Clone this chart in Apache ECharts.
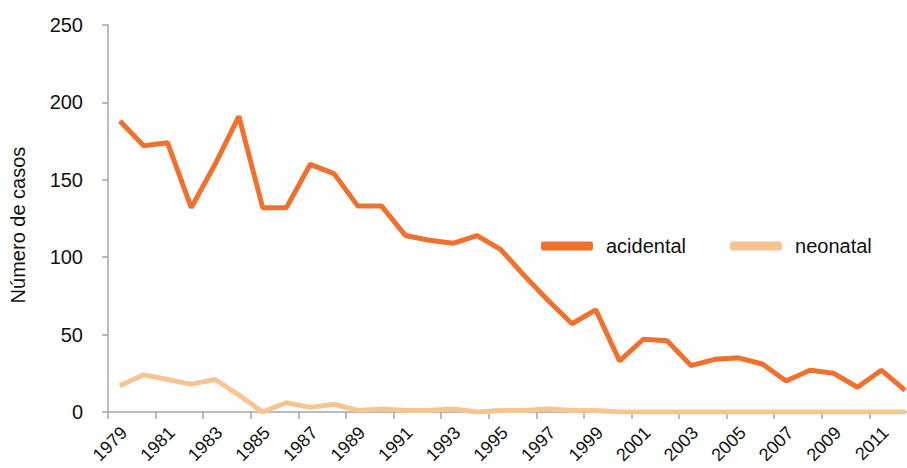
<!DOCTYPE html>
<html>
<head>
<meta charset="utf-8">
<script src="https://cdn.jsdelivr.net/npm/echarts@6/dist/echarts.min.js"></script>
<style>
  html, body { margin: 0; padding: 0; background: #fff; overflow: hidden; }
  /* the original plot runs a little past the right edge of the picture */
  #chart { width: 917px; height: 468px; }
</style>
</head>
<body>
<div id="chart"></div>
<script>
const years = []
for (let y = 1979; y <= 2012; y++) years.push(String(y))

const acidental = [188, 172, 174, 132, 160, 191, 132, 132, 160, 154, 133, 133, 114, 111, 109, 114, 105, 88, 72, 57, 66, 33, 47, 46, 30, 34, 35, 31, 20, 27, 25, 16, 27, 14]
const neonatal = [17, 24, 21, 18, 21, 11, 0, 6, 3, 5, 1, 2, 1, 1, 2, 0, 1, 1, 2, 1, 1, 0, 0, 0, 0, 0, 0, 0, 0, 0, 0, 0, 0, 0]

const axisGray = '#a6a6a6'
const font = 'Liberation Sans, Arial, sans-serif'

const chart = echarts.init(document.getElementById('chart'), null, { renderer: 'svg' })

chart.setOption({
  animation: false,
  backgroundColor: '#fff',
  textStyle: { fontFamily: font },
  grid: { left: 107, right: 0, top: 25, bottom: 56 },
  legend: {
    left: 536,
    top: 231,
    itemGap: 44,
    itemWidth: 52,
    itemHeight: 9,
    icon: 'roundRect',
    textStyle: { fontSize: 20, color: '#111', fontFamily: font, padding: [0, 0, 0, 8] },
    data: ['acidental', 'neonatal']
  },
  xAxis: {
    type: 'category',
    data: years,
    axisLine: { lineStyle: { color: axisGray, width: 1.5 } },
    axisTick: { show: true, length: 7, lineStyle: { color: axisGray, width: 1.5 } },
    axisLabel: { interval: 1, rotate: 45, fontSize: 18, color: '#111', margin: 22, padding: [0, -6, 0, 0] }
  },
  yAxis: {
    type: 'value',
    min: 0,
    max: 250,
    interval: 50,
    name: 'Número de casos',
    nameLocation: 'middle',
    nameGap: 80,
    nameTextStyle: { fontSize: 20, color: '#111', padding: [0, 13, 0, 0] },
    axisLine: { show: true, lineStyle: { color: axisGray, width: 1.5 } },
    axisTick: { show: true, length: 6, lineStyle: { color: axisGray, width: 1.5 } },
    axisLabel: { fontSize: 20, color: '#111', margin: 25 },
    splitLine: { show: false }
  },
  series: [
    {
      name: 'acidental',
      type: 'line',
      data: acidental,
      symbol: 'none',
      z: 3,
      itemStyle: { color: '#ef712d' },
      lineStyle: { color: '#ef712d', width: 5 }
    },
    {
      name: 'neonatal',
      type: 'line',
      data: neonatal,
      symbol: 'none',
      z: 2,
      itemStyle: { color: '#f6c592' },
      lineStyle: { color: '#f6c592', width: 5 }
    }
  ]
})
</script>
</body>
</html>
